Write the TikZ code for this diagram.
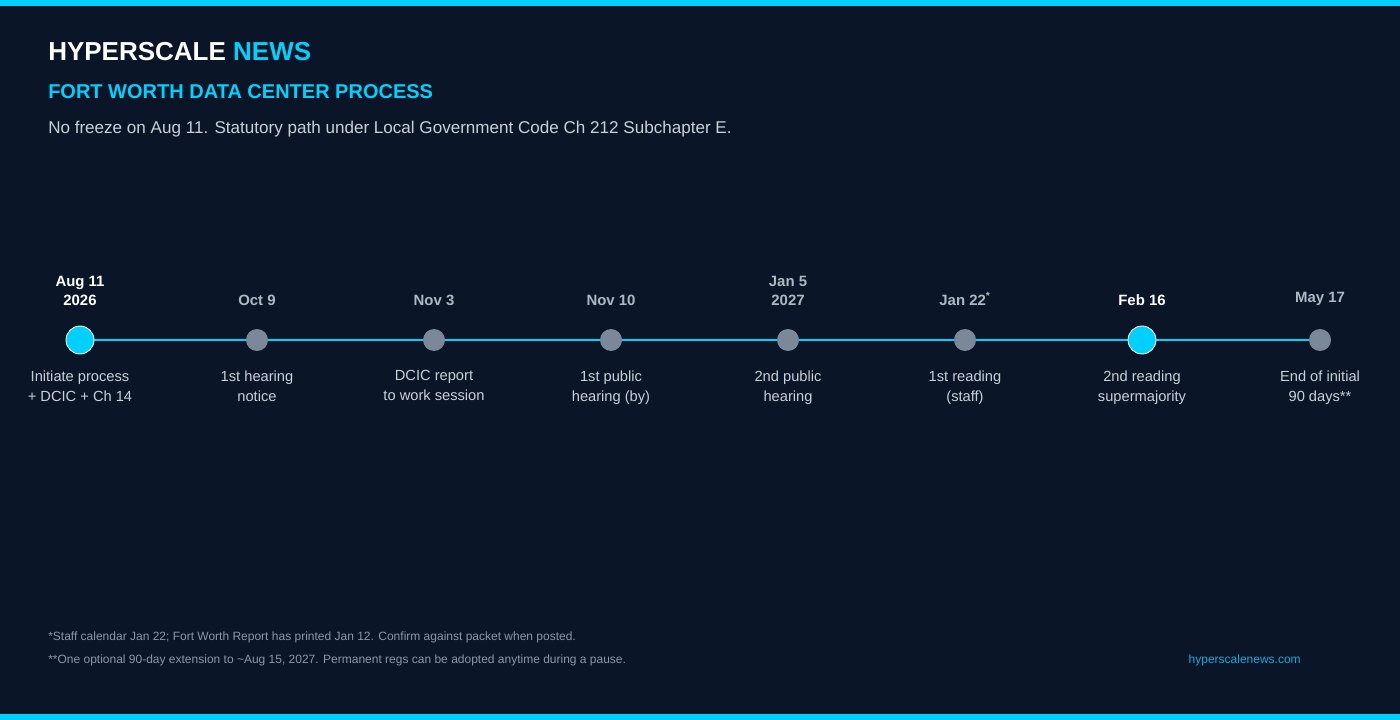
\documentclass[tikz,border=0pt]{standalone}
\usepackage{fontspec}
\setmainfont{Liberation Sans}
\begin{document}
\definecolor{bg}{HTML}{0A1628}
\definecolor{cy}{HTML}{00D0FF}
\definecolor{gd}{HTML}{7A8899}
\definecolor{lt}{HTML}{C8D0DA}
\definecolor{dg}{HTML}{AEB8C4}
\definecolor{fn}{HTML}{8C98A8}
\definecolor{lk}{HTML}{1EA8D8}
\begin{tikzpicture}[x=0.75pt,y=-0.75pt,
  date/.style={font=\bfseries\fontsize{11.2}{14}\selectfont,text=dg,align=center,anchor=south},
  datek/.style={date,text=white},
  desc/.style={font=\fontsize{11}{15}\selectfont,text=lt,align=center,anchor=north},
  dot/.style={circle,fill=gd,minimum size=16.5pt*0+16.5pt,inner sep=0pt},
  big/.style={circle,fill=cy,draw=white,line width=0.6pt,minimum size=21pt,inner sep=0pt}]
\fill[bg] (0,0) rectangle (1400,720);
\useasboundingbox (0,0) rectangle (1400,720);
\fill[cy] (0,0) rectangle (1400,6);
\fill[cy] (0,714) rectangle (1400,720);
\node[anchor=west,font=\bfseries\fontsize{19.5}{22}\selectfont,text=white,inner sep=0pt] (t) at (48,52) {HYPERSCALE \textcolor{cy}{NEWS}};
\node[anchor=west,font=\bfseries\fontsize{15}{18}\selectfont,text=cy,inner sep=0pt] (s) at (48,92) {FORT WORTH DATA CENTER PROCESS};
\node[anchor=west,font=\fontsize{12.8}{15}\selectfont,text=lt,inner sep=0pt] (d) at (48,129) {No freeze on Aug 11. Statutory path under Local Government Code Ch 212 Subchapter E.};
\coordinate (L) at (80,340); \coordinate (R) at (1320,340);
\draw[cy,line width=2.2pt] (L) -- (R);
\foreach \n/\x/\dt/\ds/\st in {
 a/80/{Aug 11\\2026}/{Initiate process\\+ DCIC + Ch 14}/k,
 b/257/{Oct 9}/{1st hearing\\notice}/n,
 c/434/{Nov 3}/{DCIC report\\to work session}/n,
 e/611/{Nov 10}/{1st public\\hearing (by)}/n,
 f/788/{Jan 5\\2027}/{2nd public\\hearing}/n,
 g/965/{Jan 22\textsuperscript{*}}/{1st reading\\(staff)}/n,
 h/1142/{Feb 16}/{2nd reading\\supermajority}/k,
 i/1320/{May 17}/{End of initial\\90 days**}/n}{
 \if k\st
  \node[big] (\n) at (\x,340) {};
  \node[datek] (\n d) at (\x,310) {\dt};
 \else
  \node[dot] (\n) at (\x,340) {};
  \node[date] (\n d) at (\x,310) {\dt};
 \fi
 \node[desc] (\n s) at (\x,366) {\ds};
}
\node[anchor=west,font=\fontsize{9}{11}\selectfont,text=fn,inner sep=0pt] (f1) at (48,637) {*Staff calendar Jan 22; Fort Worth Report has printed Jan 12. Confirm against packet when posted.};
\node[anchor=west,font=\fontsize{9}{11}\selectfont,text=fn,inner sep=0pt] (f2) at (48,660) {**One optional 90-day extension to \textasciitilde Aug 15, 2027. Permanent regs can be adopted anytime during a pause.};
\node[anchor=east,font=\fontsize{9}{11}\selectfont,text=lk,inner sep=0pt] (w) at (1301,660) {hyperscalenews.com};
\end{tikzpicture}
\end{document}
